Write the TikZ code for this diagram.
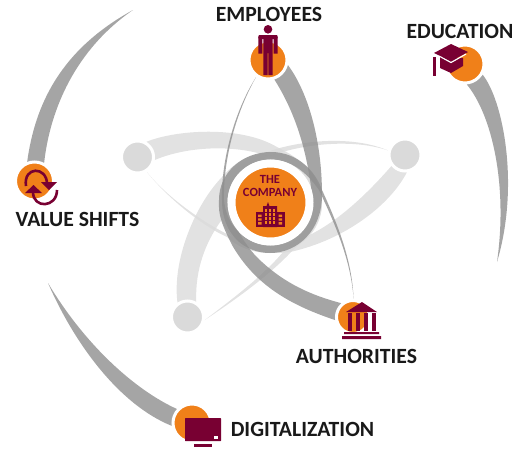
\documentclass[tikz,border=0pt]{standalone}
\usepackage{fontspec}
\setmainfont{Carlito}
\usetikzlibrary{backgrounds}
\definecolor{hubcol}{HTML}{F08019}
\definecolor{iconcol}{HTML}{780032}
\definecolor{ghostcol}{HTML}{DADADA}

\begin{document}
\begin{tikzpicture}[x=1pt,y=-1pt]
\tikzset{hub/.style = {shape=circle,fill=hubcol,draw=white,line width=3pt,minimum size=38pt,inner sep=0pt}}
\tikzset{ghost/.style = {shape=circle,fill=ghostcol,draw=white,line width=3pt,minimum size=32pt,inner sep=0pt}}
\tikzset{lbl/.style = {font=\fontsize{21.7}{22}\selectfont\bfseries,text=black!90,inner sep=0pt}}
\tikzset{swoosh/.style = {fill=black!44,fill opacity=.8}}
\tikzset{pale/.style = {fill=black!14,fill opacity=.8}}
\tikzset{solid icon/.style = {fill=iconcol}}
\useasboundingbox (0,0) rectangle (523,448);

\node[hub,line width=8pt,minimum size=78pt] (comp) at (270.5,202.5) {};
\node[hub] (emp) at (268,60) {};
\node[hub] (edu) at (465,64) {};
\node[hub] (val) at (34.5,181) {};
\node[hub,minimum size=33pt] (auth) at (353,317) {};
\node[hub] (dig) at (192,423) {};
\node[ghost] (lft) at (137.5,157) {};
\node[ghost] (rgt) at (405,155) {};
\node[ghost] (low) at (187.5,317) {};
\coordinate (edutip) at (497,262);
\coordinate (valtip) at (133,10);
\coordinate (digtip) at (48,283);

\node[lbl] (emplbl) at (269,14) {EMPLOYEES};
\node[lbl] (edulbl) at (460,31) {EDUCATION};
\node[lbl] (vallbl) at (77.5,219) {VALUE SHIFTS};
\node[lbl] (authlbl) at (356.5,356) {AUTHORITIES};
\node[lbl] (diglbl) at (302.5,429) {DIGITALIZATION};
\node[font=\fontsize{12.5}{13}\selectfont\bfseries,text=iconcol,align=center,inner sep=0pt] (complbl) at (270,186) {THE\\COMPANY};

%edges
\begin{scope}[on background layer]
\fill[pale] (lft.60) .. controls (175,130) and (240,125) .. (277,147) .. controls (300,158) and (322,175) .. (322,203) .. controls (322,232) and (298,253) .. (270,253) .. controls (250,253) and (235,245) .. (227,237) .. controls (200,225) and (165,195) .. (lft.-58) .. controls (167,197) and (203,223) .. (235,238) .. controls (250,245) and (260,245) .. (comp.-90) .. controls (295,245) and (314,225) .. (comp.0) .. controls (314,180) and (295,160) .. (270,157) .. controls (240,145) and (190,145) .. (lft.-10) -- cycle;
\fill[pale] (rgt.-84) .. controls (390,205) and (345,240) .. (290,252) .. controls (245,258) and (219,235) .. (219,203) .. controls (219,185) and (225,175) .. (232,170) .. controls (262,145) and (340,130) .. (rgt.165) .. controls (340,134) and (265,150) .. (240,172) .. controls (232,180) and (227,190) .. (comp.180) .. controls (227,225) and (245,245) .. (comp.-90) .. controls (300,245) and (340,225) .. (rgt.-141) -- cycle;
\fill[pale] (low.125) .. controls (172,260) and (195,205) .. (222,177) .. controls (235,162) and (250,153) .. (270,153) .. controls (300,153) and (322,175) .. (322,203) .. controls (322,225) and (305,240) .. (293,250) .. controls (270,275) and (235,300) .. (low.-10) .. controls (235,297) and (268,272) .. (287,247) .. controls (305,235) and (314,220) .. (comp.0) .. controls (314,178) and (295,160) .. (comp.90) .. controls (250,160) and (235,185) .. (227,213) .. controls (205,240) and (195,270) .. (low.60) -- cycle;
\fill[swoosh] (emp.-14) .. controls (308,92) and (322,140) .. (322,195) .. controls (322,230) and (298,253) .. (270,253) .. controls (245,253) and (222,235) .. (222,200) .. controls (221,160) and (235,110) .. (emp.-125) .. controls (236,112) and (223,160) .. (224,200) .. controls (226,225) and (245,245) .. (comp.-90) .. controls (295,245) and (312,225) .. (312,195) .. controls (307,150) and (295,112) .. (emp.-72) -- cycle;
\fill[swoosh] (auth.190) .. controls (290,305) and (255,285) .. (232,245) .. controls (222,225) and (218,215) .. (219,200) .. controls (219,172) and (243,152) .. (271,152) .. controls (298,152) and (316,172) .. (322,190) .. controls (338,225) and (352,260) .. (auth.88) .. controls (351,261) and (336,226) .. (319,190) .. controls (305,170) and (290,160) .. (comp.90) .. controls (245,160) and (227,180) .. (comp.180) .. controls (232,225) and (248,250) .. (262,262) .. controls (285,283) and (310,295) .. (auth.130) -- cycle;
\fill[swoosh] (edu.-31) .. controls (503,100) and (520,185) .. (edutip) .. controls (508,185) and (492,115) .. (edu.-85) -- cycle;
\fill[swoosh] (val.111) .. controls (35,105) and (60,50) .. (valtip) .. controls (75,50) and (50,110) .. (val.62) -- cycle;
\fill[swoosh] (dig.137) .. controls (135,390) and (85,345) .. (digtip) .. controls (75,345) and (120,405) .. (dig.188) -- cycle;
\end{scope}

%employees icon
\fill[solid icon] (268,29.3) circle (4.3);
\fill[solid icon,rounded corners=1pt] (258.3,35) rectangle (277.7,39);
\fill[solid icon] (258.3,37) rectangle (262.3,53.5) (273.7,37) rectangle (277.7,53.5);
\fill[solid icon] (263.3,37) rectangle (272.7,53) (263.3,53) rectangle (267.6,75) (268.4,53) rectangle (272.7,75);

%education icon
\fill[solid icon] (440,57) -- (463,58) -- (463,66) -- (451,73) -- (440,68) -- cycle;
\draw[white,line width=1.2pt] (435,58) -- (440,56.5) -- (451,62.5) -- (466,54);
\fill[solid icon] (434,53) -- (451,44) -- (468,52) -- (451,61) -- cycle;
\fill[solid icon] (433,57) rectangle (435.5,76);

%value shifts icon
\draw[iconcol,line width=2.6pt] (26,186) .. controls (23,166) and (47,166) .. (47,184);
\fill[solid icon] (41,182) -- (57,182) -- (49,190) -- cycle;
\draw[iconcol,line width=2.6pt] (57,190) .. controls (57,208) and (33,209) .. (33,192);
\fill[solid icon] (25,193) -- (42,193) -- (33.5,185) -- cycle;

%company icon
\fill[solid icon] (263,227) -- (263,206) -- (266.5,206) -- (268,202) -- (269.5,206) -- (277,206) -- (277,227) -- cycle;
\fill[solid icon] (256,212) rectangle (285,227);
\foreach \i in {0,1,2} \foreach \j in {0,1,2,3}
  \fill[hubcol] (264.5+4*\i,208.5+4.2*\j) rectangle +(2.9,3);
\foreach \j in {0,1,2}
  \fill[hubcol] (258,214.5+3.8*\j) rectangle +(3.5,2.4) (278.5,214.5+3.8*\j) rectangle +(3.5,2.4);

%authorities icon
\fill[solid icon] (346,312) -- (362,302) -- (377,312) -- cycle;
\foreach \x in {348,356,364,372}
  \fill[solid icon] (\x,313) rectangle +(3.5,18);
\fill[solid icon] (344,332) rectangle (379,334) (342,336) rectangle (381,339);

%digitalization icon
\fill[solid icon,rounded corners=.5pt] (185,418) rectangle (221,441);
\fill[white] (214,436) rectangle (218,439);
\fill[solid icon] (194,444) rectangle (212,447);
\end{tikzpicture}
\end{document}
